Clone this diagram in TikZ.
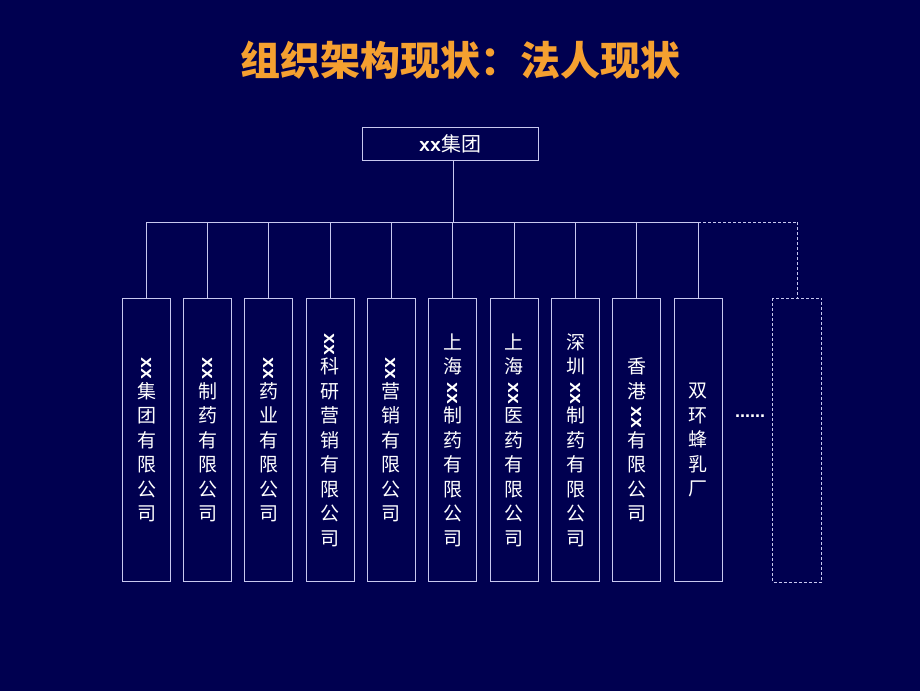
\documentclass[tikz,border=0pt]{standalone}
\usepackage{fontspec}
\setmainfont{Liberation Sans}
\newfontfamily\cjk{Noto Sans CJK SC}
\definecolor{bg}{HTML}{000050}
\definecolor{ln}{HTML}{C8C8F0}
\definecolor{ttl}{HTML}{F5A030}
\newcommand{\xx}{\rotatebox[origin=c]{-90}{\bfseries\sffamily\fontsize{22pt}{22pt}\selectfont xx}}
\begin{document}
\begin{tikzpicture}[x=1pt,y=-1pt,
  box/.style={draw=ln,line width=1pt,minimum width=48pt,minimum height=283pt,inner sep=0pt,text=white,font=\cjk\fontsize{19pt}{24.5pt}\selectfont,align=center},
  con/.style={draw=ln,line width=1pt},
  dcon/.style={draw=ln,line width=1pt,dash pattern=on 3pt off 2pt}]
\fill[bg] (0,0) rectangle (920,691);
\node[text=ttl,font=\cjk\fontsize{40pt}{46pt}\selectfont\bfseries] (title) at (460,60) {组织架构现状：法人现状};
\node[draw=ln,line width=1pt,minimum width=176pt,minimum height=33pt,text=white,font=\cjk\fontsize{20pt}{24pt}\selectfont] (top) at (450,143.5) {{\bfseries\sffamily\fontsize{22pt}{24pt}\selectfont xx}集团};
\coordinate (j) at (453,222);
\coordinate (l) at (147,222);
\coordinate (r) at (698,222);
\coordinate (rd) at (797,222);
\draw[con] (top.south -| j) -- (j);
\draw[con] (l) -- (r);
\draw[dcon] (r) -- (rd);
\foreach \n/\x/\t in {
 b1/146.5/\xx\\集\\团\\有\\限\\公\\司,
 b2/207.5/\xx\\制\\药\\有\\限\\公\\司,
 b3/268.5/\xx\\药\\业\\有\\限\\公\\司,
 b4/330/\xx\\科\\研\\营\\销\\有\\限\\公\\司,
 b5/391/\xx\\营\\销\\有\\限\\公\\司,
 b6/452.5/上\\海\\\xx\\制\\药\\有\\限\\公\\司,
 b7/514/上\\海\\\xx\\医\\药\\有\\限\\公\\司,
 b8/575.5/深\\圳\\\xx\\制\\药\\有\\限\\公\\司,
 b9/636.5/香\\港\\\xx\\有\\限\\公\\司,
 b10/698/双\\环\\蜂\\乳\\厂}{
  \node[box] (\n) at (\x,440) {\t};
  \draw[con] (\n.north) -- (\n.north |- l);
}
\node[box,draw=none] (b11) at (797,440) {};
\draw[dcon] (b11.north west) rectangle (b11.south east);
\draw[dcon] (rd) -- (b11.north);
\node[text=white,font=\bfseries\fontsize{18pt}{18pt}\selectfont] (dots) at (750,416) {......};
\end{tikzpicture}
\end{document}
